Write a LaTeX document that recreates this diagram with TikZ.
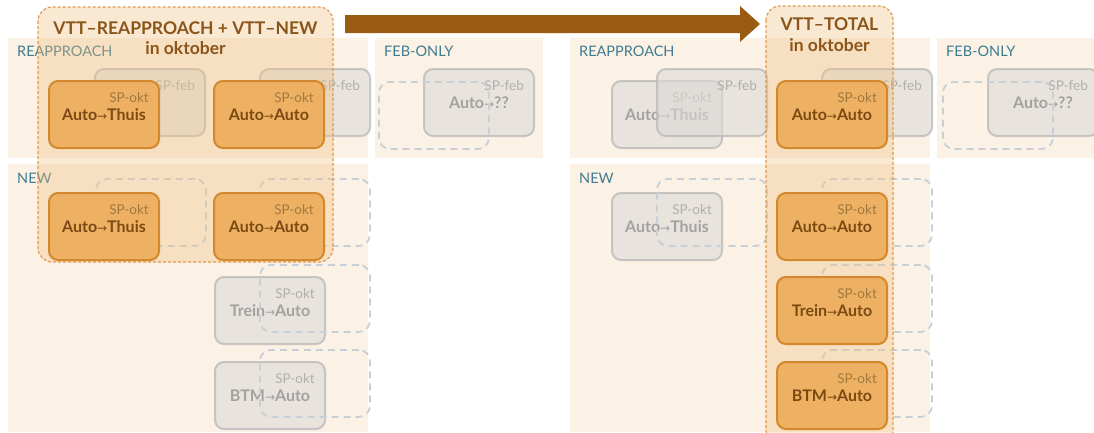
\documentclass[tikz,border=0pt]{standalone}
\usepackage{fontspec}
\setmainfont{Lato}
\newfontfamily\arrfont{DejaVu Sans}
\usetikzlibrary{calc}

\definecolor{panelbg}{HTML}{FBF1E5}
\definecolor{panelink}{HTML}{3E7C91}
\definecolor{orfill}{HTML}{EEB163}
\definecolor{ordraw}{HTML}{D4882D}
\definecolor{orink}{HTML}{7A4A12}
\definecolor{orsp}{HTML}{A0783E}
\definecolor{grfill}{HTML}{DCDAD6}
\definecolor{grdraw}{HTML}{B8B8B8}
\definecolor{grink}{HTML}{A2A2A2}
\definecolor{dashc}{HTML}{C6D0D6}
\definecolor{hlfill}{HTML}{F0C080}
\definecolor{hldraw}{HTML}{E39A4B}
\definecolor{titleink}{HTML}{8B5519}
\definecolor{arrowc}{HTML}{9A5B13}

% small thin arrow between the two trip legs
\newcommand\legarrow{{\arrfont\mdseries\fontsize{12}{12}\selectfont\raisebox{0.3pt}{→}}}

\tikzset{
  panel/.style={fill=panelbg, draw=none},
  panellabel/.style={anchor=base west, inner sep=0pt, text=panelink,
    font=\fontsize{14.5}{15}\selectfont},
  orangebox/.style={anchor=north west, minimum width=110pt, minimum height=67pt,
    inner sep=0pt, rounded corners=9pt, fill=orfill, draw=ordraw, line width=2pt},
  orangesp/.style={inner sep=0pt, text=orsp, font=\fontsize{13.5}{14}\selectfont},
  orangelab/.style={inner sep=0pt, text=orink, font=\bfseries\fontsize{16}{17}\selectfont},
  greybox/.style={anchor=north west, minimum width=110pt, minimum height=67pt,
    inner sep=0pt, rounded corners=9pt, fill=grfill, fill opacity=0.6,
    draw=grdraw, draw opacity=0.75, line width=2pt},
  greysp/.style={inner sep=0pt, text=grink, text opacity=0.8, font=\fontsize{13.5}{14}\selectfont},
  greylab/.style={inner sep=0pt, text=grink, font=\bfseries\fontsize{16}{17}\selectfont},
  slot/.style={anchor=north west, minimum width=110pt, minimum height=67pt,
    inner sep=0pt, rounded corners=11pt, draw=dashc, line width=1.8pt,
    dash pattern=on 7pt off 5pt},
  highlight/.style={rounded corners=14pt, fill=hlfill, fill opacity=0.35,
    draw=hldraw, draw opacity=1, line width=1.2pt, dash pattern=on 3pt off 2pt},
  hltitle/.style={inner sep=0pt, text=titleink, font=\bfseries\fontsize{17.5}{18}\selectfont},
}

% #1 name, #2 x, #3 y, #4 kind (orange/grey), #5 month tag, #6 trip
\newcommand\tripbox[6]{%
  \node[#4box] (#1) at (#2,#3) {};
  \node[#4sp, anchor=base east] (#1-sp) at ($(#1.north east)+(-11,22)$) {#5};
  \node[#4lab] (#1-lab) at ($(#1.center)+(0,0.5)$) {#6};
}

\begin{document}
\begin{tikzpicture}[x=1pt,y=-1pt]
\useasboundingbox[fill=white] (0,0) rectangle (1094,432);

% ---------- background panels ----------
\fill[panel] (8,38) rectangle (368,158);
\fill[panel] (8,164) rectangle (368,432);
\fill[panel] (375,38) rectangle (543,158);
\fill[panel] (570,38) rectangle (930,158);
\fill[panel] (570,164) rectangle (930,432);
\fill[panel] (937,38) rectangle (1094,158);

\node[panellabel] (lReLab) at (17,56) {REAPPROACH};
\node[panellabel] (lNewLab) at (17,183) {NEW};
\node[panellabel] (lFebLab) at (384,56) {FEB-ONLY};
\node[panellabel] (rReLab) at (579,56) {REAPPROACH};
\node[panellabel] (rNewLab) at (579,183) {NEW};
\node[panellabel] (rFebLab) at (946,56) {FEB-ONLY};

% ---------- left half ----------
\tripbox{lF1}{94}{68}{grey}{SP-feb}{}
\tripbox{lF2}{259}{68}{grey}{SP-feb}{}
\tripbox{lT3}{214}{276}{grey}{SP-okt}{Trein\legarrow Auto}
\tripbox{lT4}{214}{361}{grey}{SP-okt}{BTM\legarrow Auto}
\node[slot] (lS1) at (95,178) {};
\node[slot] (lS2) at (259,178) {};
\node[slot] (lS3) at (259,264) {};
\node[slot] (lS4) at (259,349) {};
\tripbox{lFO}{423}{68}{grey}{SP-feb}{Auto\legarrow ??}
\node[slot] (lSO) at (378,81) {};

\draw[highlight] (38,7) rectangle (333,262);
\node[hltitle] (lTitle) at (185.5,28) {VTT–REAPPROACH + VTT–NEW};
\node[hltitle] (lSub) at (185.5,48) {in oktober};

\tripbox{lR1}{48}{80}{orange}{SP-okt}{Auto\legarrow Thuis}
\tripbox{lR2}{213}{80}{orange}{SP-okt}{Auto\legarrow Auto}
\tripbox{lN1}{48}{192}{orange}{SP-okt}{Auto\legarrow Thuis}
\tripbox{lN2}{213}{192}{orange}{SP-okt}{Auto\legarrow Auto}

% ---------- arrow between the two halves ----------
\coordinate (arrS) at (345,24);
\coordinate (arrE) at (760,24);
\fill[arrowc] ($(arrS)+(0,-9)$) -- ($(arrE)+(-20,-9)$) -- ($(arrE)+(-20,-18)$)
  -- (arrE) -- ($(arrE)+(-20,18)$) -- ($(arrE)+(-20,9)$) -- ($(arrS)+(0,9)$) -- cycle;

% ---------- right half ----------
\tripbox{rR1}{611}{80}{grey}{SP-okt}{Auto\legarrow Thuis}
\tripbox{rF1}{656}{68}{grey}{SP-feb}{}
\tripbox{rF2}{821}{68}{grey}{SP-feb}{}
\tripbox{rN1}{611}{192}{grey}{SP-okt}{Auto\legarrow Thuis}
\node[slot] (rS1) at (656,178) {};
\node[slot] (rS2) at (821,178) {};
\node[slot] (rS3) at (821,264) {};
\node[slot] (rS4) at (821,349) {};
\tripbox{rFO}{987}{68}{grey}{SP-feb}{Auto\legarrow ??}
\node[slot] (rSO) at (942,81) {};

\draw[highlight] (766,6) rectangle (893,445);
\node[hltitle] (rTitle) at (829.5,24) {VTT–TOTAL};
\node[hltitle] (rSub) at (829.5,45) {in oktober};

\tripbox{rR2}{776}{80}{orange}{SP-okt}{Auto\legarrow Auto}
\tripbox{rN2}{776}{192}{orange}{SP-okt}{Auto\legarrow Auto}
\tripbox{rN3}{776}{276}{orange}{SP-okt}{Trein\legarrow Auto}
\tripbox{rN4}{776}{361}{orange}{SP-okt}{BTM\legarrow Auto}
\end{tikzpicture}
\end{document}
